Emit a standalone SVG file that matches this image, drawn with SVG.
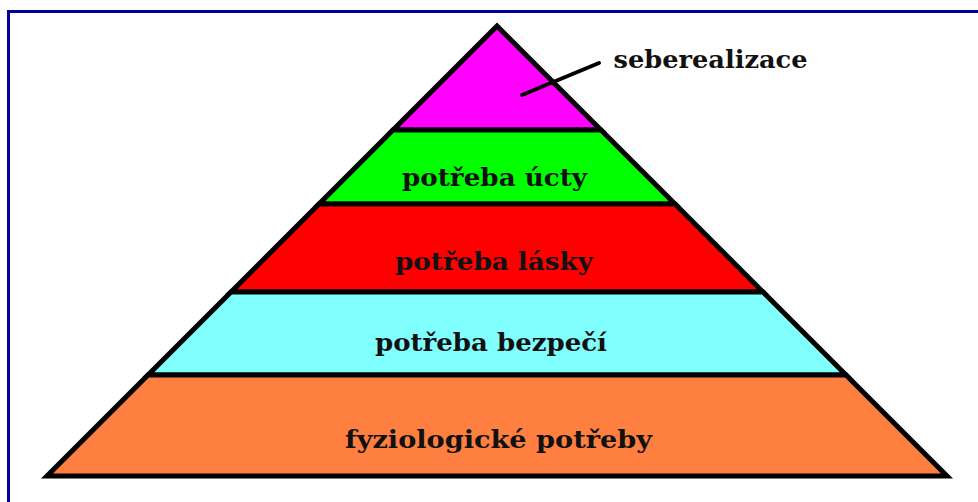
<svg xmlns="http://www.w3.org/2000/svg" width="978" height="502" viewBox="0 0 978 502">
  <style>
    .band { stroke: #000; stroke-width: 5; stroke-linejoin: miter; }
    .label { font-family: "DejaVu Serif", "Liberation Serif", serif; font-weight: bold; font-size: 25px; fill: #111; text-anchor: middle; }
    .frame { stroke: #000099; stroke-width: 3; fill: none; }
    .pointer { stroke: #000; stroke-width: 4; stroke-linecap: round; fill: none; }
  </style>
  <rect x="0" y="0" width="978" height="502" fill="#fff"/>

  <!-- page frame: top and left rules -->
  <path class="frame" d="M8.5,502 V11.5 H978"/>

  <!-- pyramid levels, top to bottom -->
  <g id="level-seberealizace">
    <polygon class="band" fill="#ff00ff" points="497,26 601,130 393,130"/>
  </g>
  <g id="level-ucta">
    <polygon class="band" fill="#00ff00" points="393,130 601,130 675,204 319,204"/>
    <text class="label" x="494.5" y="186" textLength="185" lengthAdjust="spacingAndGlyphs">potřeba úcty</text>
  </g>
  <g id="level-laska">
    <polygon class="band" fill="#ff0000" points="319,204 675,204 763,292 231,292"/>
    <text class="label" x="494" y="270" textLength="198" lengthAdjust="spacingAndGlyphs">potřeba lásky</text>
  </g>
  <g id="level-bezpeci">
    <polygon class="band" fill="#80ffff" points="231,292 763,292 846,375 148,375"/>
    <text class="label" x="491" y="351" textLength="232" lengthAdjust="spacingAndGlyphs">potřeba bezpečí</text>
  </g>
  <g id="level-fyziologicke">
    <polygon class="band" fill="#ff7f40" points="148,375 846,375 947,476 47,476"/>
    <text class="label" x="498.5" y="448" textLength="307" lengthAdjust="spacingAndGlyphs">fyziologické potřeby</text>
  </g>

  <!-- callout for the apex -->
  <g id="connectors">
    <line class="pointer" x1="522" y1="95" x2="599" y2="63"/>
  </g>
  <g id="label-seberealizace">
    <text class="label" x="710.5" y="68" textLength="194" lengthAdjust="spacingAndGlyphs">seberealizace</text>
  </g>
</svg>
